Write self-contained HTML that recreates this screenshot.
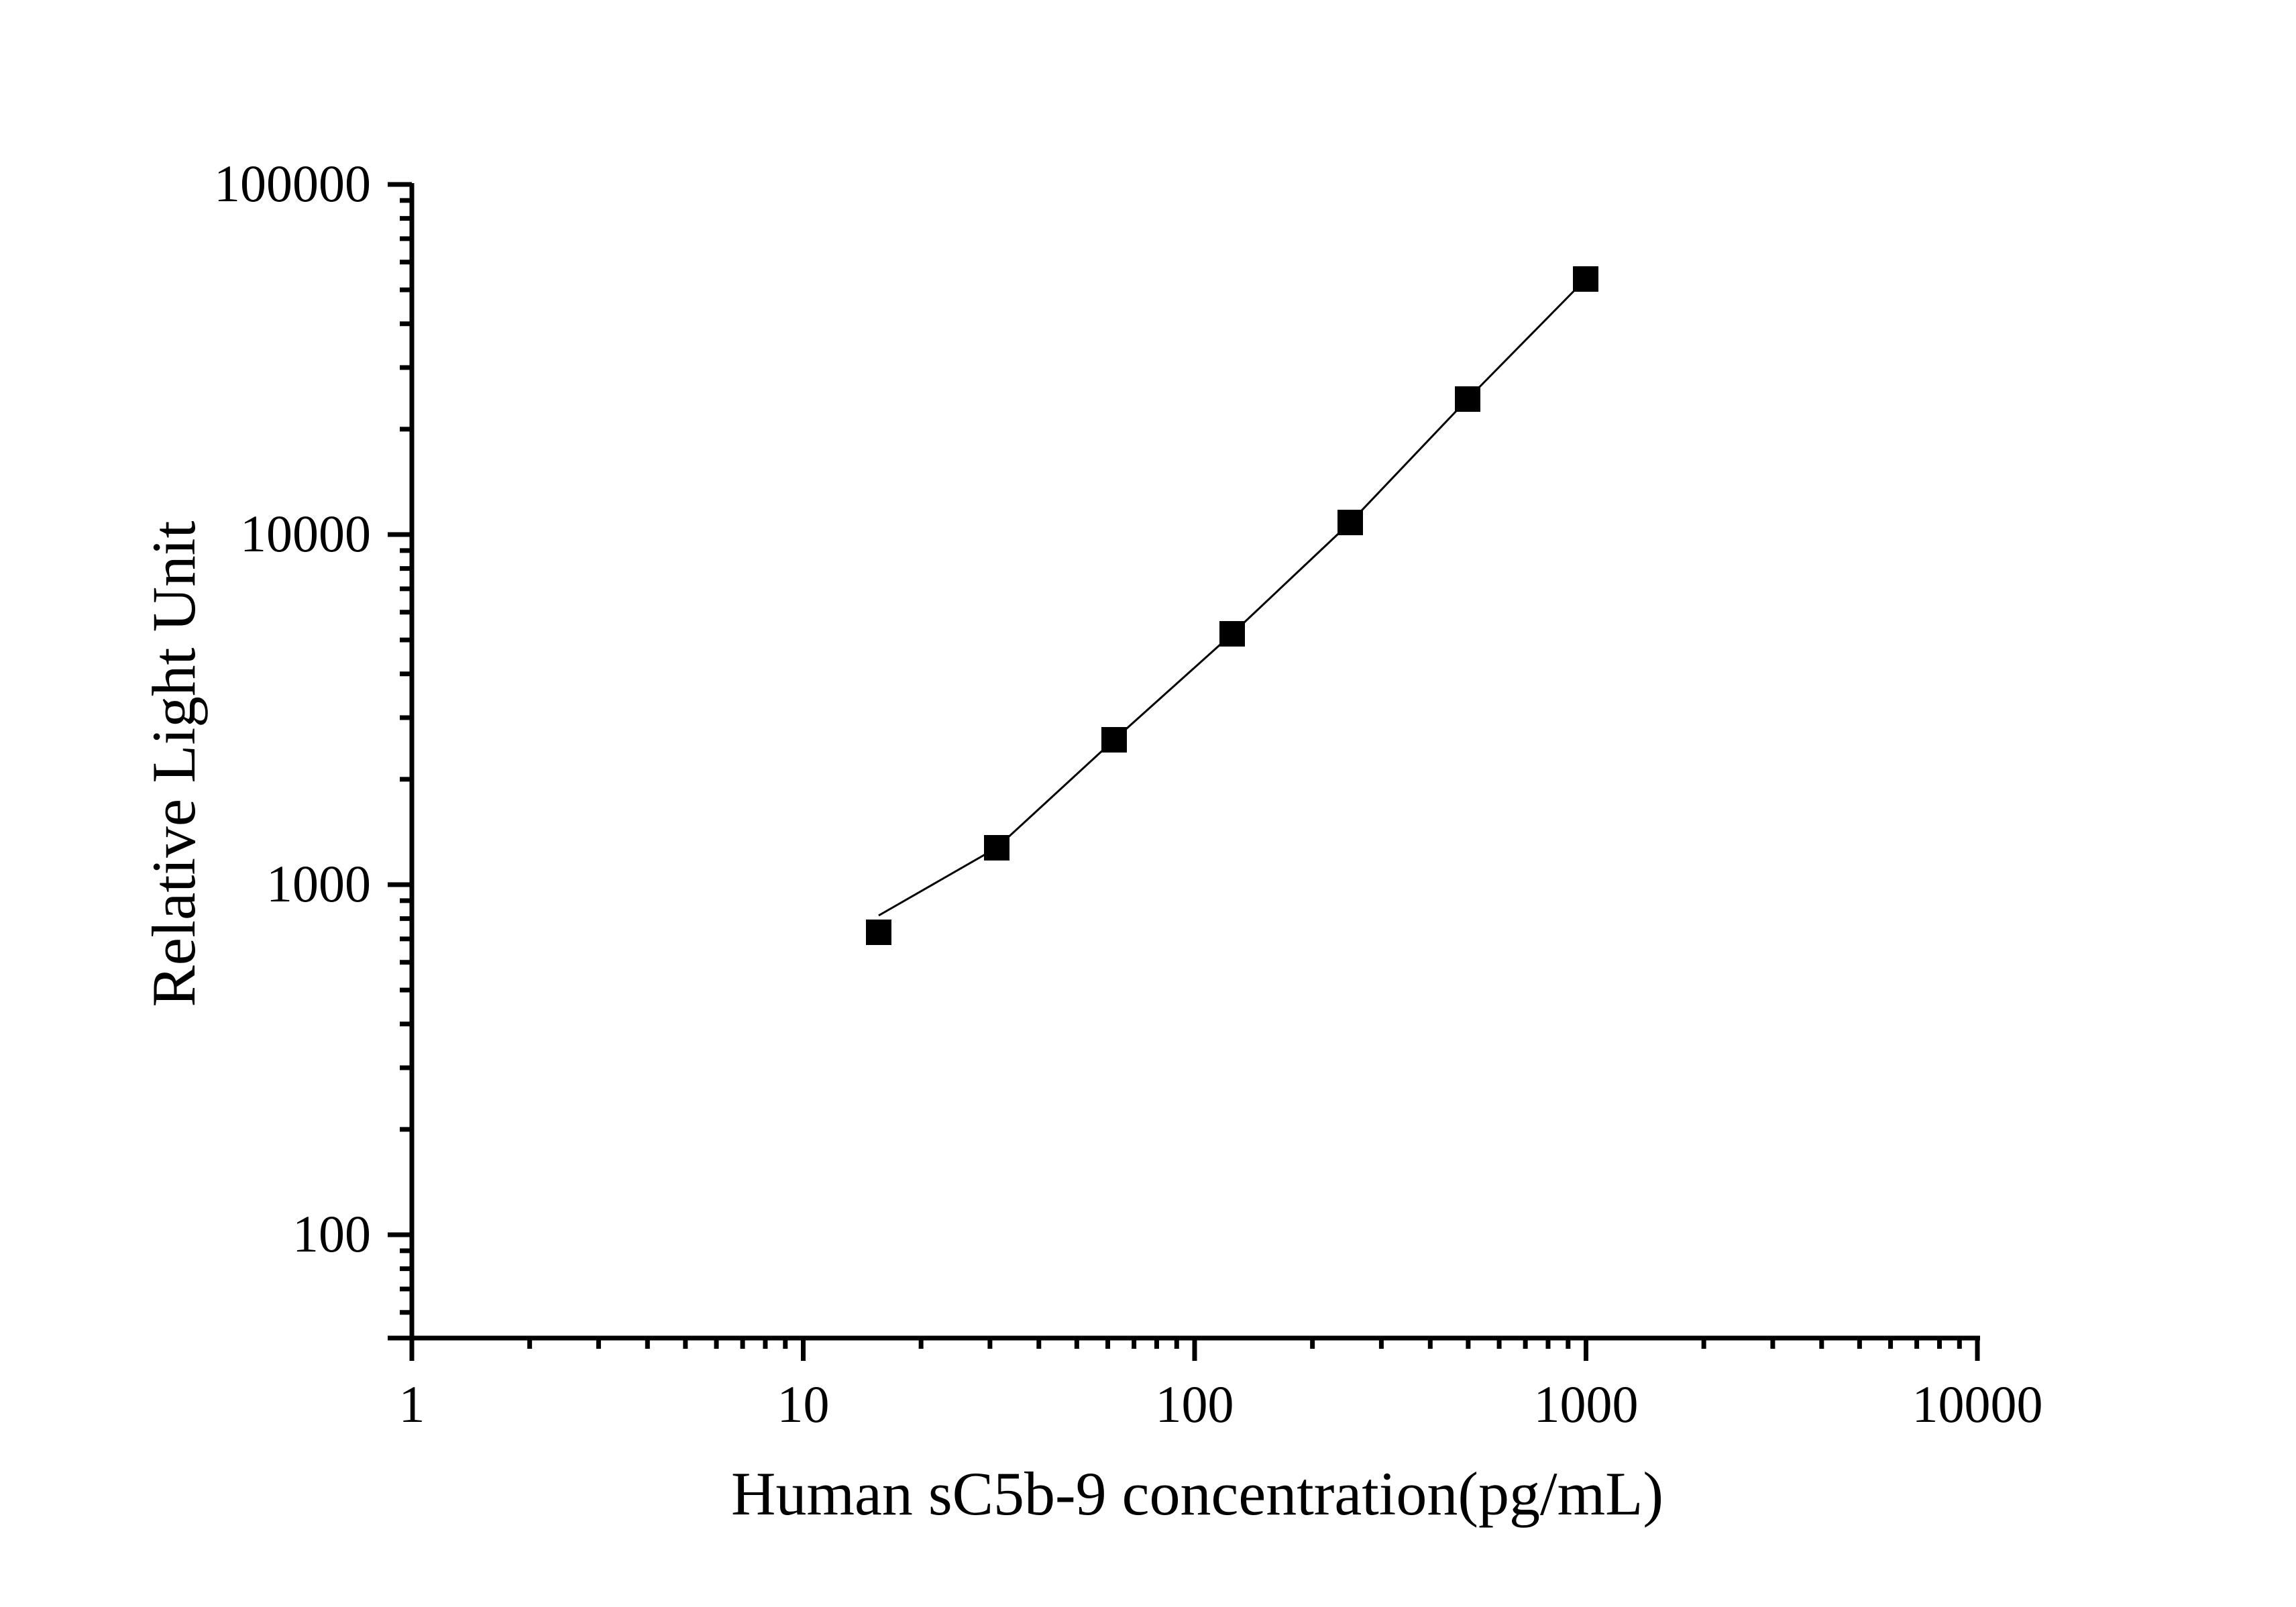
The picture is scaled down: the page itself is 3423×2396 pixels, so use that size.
<!DOCTYPE html>
<html><head><meta charset="utf-8"><style>html,body{margin:0;padding:0;background:#fff}</style></head>
<body>
<svg xmlns="http://www.w3.org/2000/svg" width="3423" height="2391" viewBox="0 0 3423 2391">
<rect width="3423" height="2391" fill="#fff"/>
<g id="ax" stroke="#000" stroke-width="7" fill="none">
<line x1="614" y1="273" x2="614" y2="2029"/>
<line x1="578" y1="1995" x2="2952" y2="1995"/>
</g>
<g id="ticks" stroke="#000" stroke-width="7"></g>
<g font-family="Liberation Serif, serif" font-size="78" fill="#000" id="labels"></g>
<polyline points="1310,1365 1486,1264 1661,1103 1837,945 2013,779 2188,595 2364,416" fill="none" stroke="#000" stroke-width="3"/>
<g fill="#000">
<rect x="1291" y="1371" width="38" height="38"/>
<rect x="1467" y="1245" width="38" height="38"/>
<rect x="1642" y="1084" width="38" height="38"/>
<rect x="1818" y="926" width="38" height="38"/>
<rect x="1994" y="760" width="38" height="38"/>
<rect x="2169" y="576" width="38" height="38"/>
<rect x="2345" y="397" width="38" height="38"/>
</g>
<text x="1785" y="2258" font-family="Liberation Serif, serif" font-size="92" text-anchor="middle" textLength="1390" lengthAdjust="spacingAndGlyphs">Human sC5b-9 concentration(pg/mL)</text>
<text transform="translate(290,1139) rotate(-90)" font-family="Liberation Serif, serif" font-size="92" text-anchor="middle" textLength="725" lengthAdjust="spacingAndGlyphs">Relative Light Unit</text>
<script>
var t=document.getElementById('ticks'),l=document.getElementById('labels'),ns='http://www.w3.org/2000/svg';
function ln(a,b,c,d){var e=document.createElementNS(ns,'line');e.setAttribute('x1',a);e.setAttribute('y1',b);e.setAttribute('x2',c);e.setAttribute('y2',d);t.appendChild(e);}
function tx(s,x,y,anc){var e=document.createElementNS(ns,'text');e.setAttribute('x',x);e.setAttribute('y',y);e.setAttribute('text-anchor',anc);e.textContent=s;l.appendChild(e);}
var x0=614,dx=583.5,ya=1995;
for(var d=0;d<=4;d++){var x=x0+d*dx;ln(x,ya,x,ya+34);tx(String(Math.pow(10,d)),x,2120,'middle');
 if(d<4)for(var k=2;k<10;k++){var xm=x+Math.log10(k)*dx;ln(xm,ya,xm,ya+16);}}
var y5=275,dy=522;function Y(v){return y5+(5-Math.log10(v))*dy;}
for(var e=2;e<=5;e++){var y=Y(Math.pow(10,e));ln(578,y,614,y);tx(String(Math.pow(10,e)),553,y+25,'end');}
for(var e=1;e<=4;e++)for(var k=2;k<10;k++){var v=k*Math.pow(10,e);if(v<60)continue;var y=Y(v);ln(596,y,614,y);}
</script>
</svg>
</body></html>
